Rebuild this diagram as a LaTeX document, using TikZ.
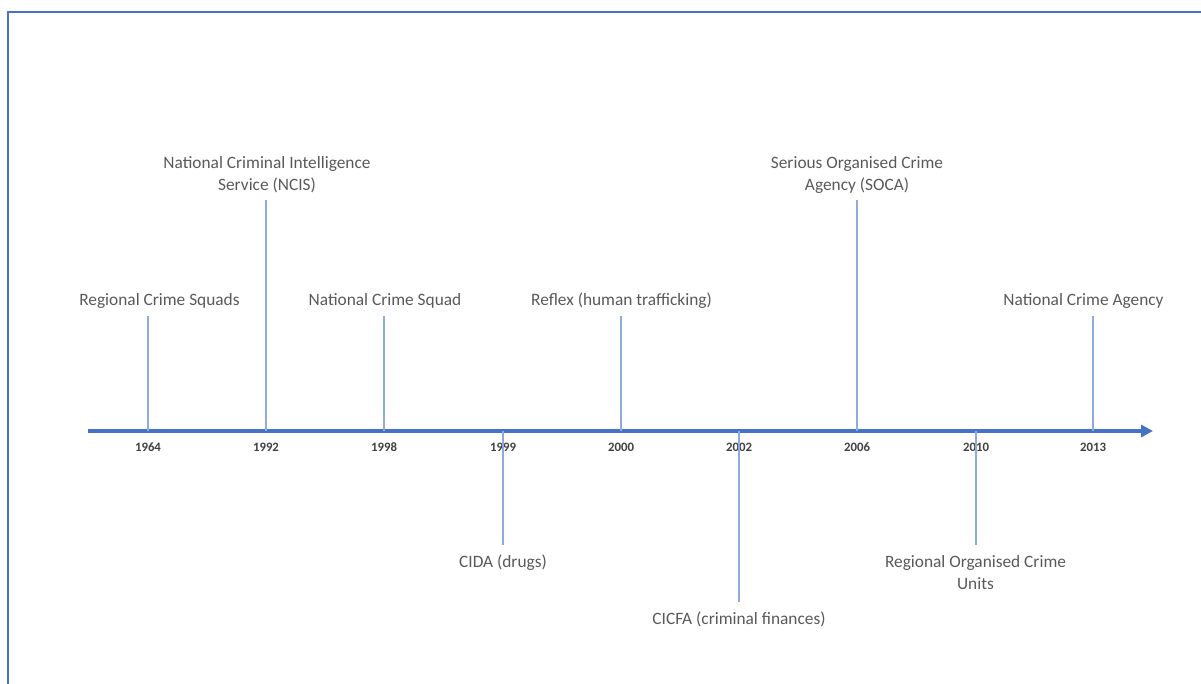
\documentclass[tikz,border=0pt]{standalone}
\usepackage{fontspec}
\setmainfont{Carlito}
\usetikzlibrary{arrows.meta}
\definecolor{frameblue}{HTML}{4472C4}
\definecolor{tickblue}{HTML}{8FAADC}
\definecolor{labelgrey}{HTML}{595959}
\definecolor{yeargrey}{HTML}{404040}
\tikzset{
  evlabel/.style={font=\fontsize{13}{16.5}\selectfont, text=labelgrey, align=center, inner sep=0pt, anchor=base},
  yearlabel/.style={font=\fontsize{9.6}{11}\selectfont\bfseries, text=yeargrey, inner sep=0pt, anchor=base},
  tickline/.style={draw=tickblue, line width=0.9pt},
  axisline/.style={draw=frameblue, line width=3pt, -{Triangle[length=9pt,width=9pt]}},
  frameline/.style={draw=frameblue, line width=1.6pt}
}
\begin{document}
\begin{tikzpicture}[x=0.75pt,y=-0.75pt]
\useasboundingbox (0,0) rectangle (1201,684);
% frame
\coordinate (fbl) at (8,690);
\coordinate (ftl) at (8,12);
\coordinate (ftr) at (1210,12);
\draw[frameline] (fbl) -- (ftl) -- (ftr);
% axis
\coordinate (axs) at (88,431);
\coordinate (axe) at (1153,431);
\draw[axisline] (axs) -- (axe);
% tick bases and ends
\coordinate (b1964) at (148,431); \coordinate (e1964) at (148,316);
\coordinate (b1992) at (266,431); \coordinate (e1992) at (266,200);
\coordinate (b1998) at (384,431); \coordinate (e1998) at (384,316);
\coordinate (b1999) at (503,431); \coordinate (e1999) at (503,545);
\coordinate (b2000) at (621,431); \coordinate (e2000) at (621,316);
\coordinate (b2002) at (739,431); \coordinate (e2002) at (739,602);
\coordinate (b2006) at (857,431); \coordinate (e2006) at (857,200);
\coordinate (b2010) at (976,431); \coordinate (e2010) at (976,545);
\coordinate (b2013) at (1093,431); \coordinate (e2013) at (1093,316);
% year labels
\node[yearlabel] (y1964) at (148,451) {1964};
\node[yearlabel] (y1992) at (266,451) {1992};
\node[yearlabel] (y1998) at (384,451) {1998};
\node[yearlabel] (y1999) at (503,451) {1999};
\node[yearlabel] (y2000) at (621,451) {2000};
\node[yearlabel] (y2002) at (739,451) {2002};
\node[yearlabel] (y2006) at (857,451) {2006};
\node[yearlabel] (y2010) at (976,451) {2010};
\node[yearlabel] (y2013) at (1093,451) {2013};
% ticks
\foreach \yr in {1964,1992,1998,1999,2000,2002,2006,2010,2013}
  \draw[tickline] (b\yr) -- (e\yr);
% event labels (base = baseline of last line)
\node[evlabel] (l1964) at (159.5,305.5) {Regional Crime Squads};
\node[evlabel] (l1992) at (267,190.5) {National Criminal Intelligence\\Service (NCIS)};
\node[evlabel] (l1998) at (385,305.5) {National Crime Squad};
\node[evlabel] (l1999) at (503,567.5) {CIDA (drugs)};
\node[evlabel] (l2000) at (621.5,305.5) {Reflex (human trafficking)};
\node[evlabel] (l2002) at (739,624.5) {CICFA (criminal finances)};
\node[evlabel] (l2006) at (857,190.5) {Serious Organised Crime\\Agency (SOCA)};
\node[evlabel] (l2010) at (975.5,589.5) {Regional Organised Crime\\Units};
\node[evlabel] (l2013) at (1083.5,305.5) {National Crime Agency};
\end{tikzpicture}
\end{document}
